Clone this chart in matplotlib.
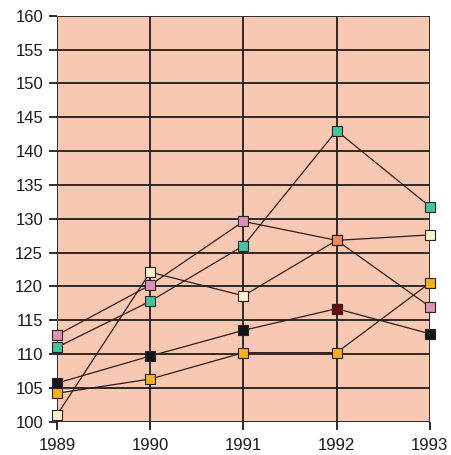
import matplotlib.pyplot as plt

# values
years = [1989, 1990, 1991, 1992, 1993]
teal = [111.0, 117.8, 126.0, 143.0, 131.8]
pink = [112.8, 120.2, 129.6, 126.8, 117.0]
cream = [101.0, 122.1, 118.6, 126.8, 127.6]
dark = [105.7, 109.7, 113.5, 116.7, 113.0]
yellow = [104.2, 106.3, 110.2, 110.2, 120.5]

series = [
    (teal, '#45c29e'),
    (pink, '#dc92b6'),
    (cream, '#f9f1cf'),
    (dark, '#161616'),
    (yellow, '#f4b01e'),
]

plt.rcParams['font.family'] = ['Liberation Sans', 'DejaVu Sans']

fig = plt.figure(figsize=(4.51, 4.55), dpi=100)
ax = fig.add_axes([0.1264, 0.0732, 0.8266, 0.8923])
ax.set_facecolor('#f8c8b2')

line_col = '#2e1c1c'
mk = dict(ls='none', marker='s', ms=6.6, mec='#2a2020', mew=0.8, clip_on=False)
for vals, col in series:
    ax.plot(years, vals, color=line_col, lw=0.9, zorder=3)
for vals, col in series:
    ax.plot(years, vals, mfc=col, zorder=4, **mk)

# 1992 marker of the dark series is maroon, shared pink/cream point is salmon
ax.plot(years[3], dark[3], mfc='#6e0c0c', zorder=5, **mk)
ax.plot(years[3], cream[3], mfc='#ea8a5e', zorder=5, **mk)

ax.set_xlim(1989, 1993)
ax.set_ylim(100, 160)
ax.set_xticks(years)
ax.set_yticks(range(100, 161, 5))
ax.grid(True, color='#1e1e1e', lw=1.3, zorder=1)
ax.set_axisbelow(True)
for side in ['top', 'right', 'left', 'bottom']:
    ax.spines[side].set_visible(False)
ax.tick_params(axis='both', length=6, width=1.3, color='#1e1e1e',
               labelsize=12, labelcolor='#1a1a1a')
ax.tick_params(axis='y', pad=4)
ax.tick_params(axis='x', pad=6)

fig.savefig('out.png', dpi=100, facecolor='white')
